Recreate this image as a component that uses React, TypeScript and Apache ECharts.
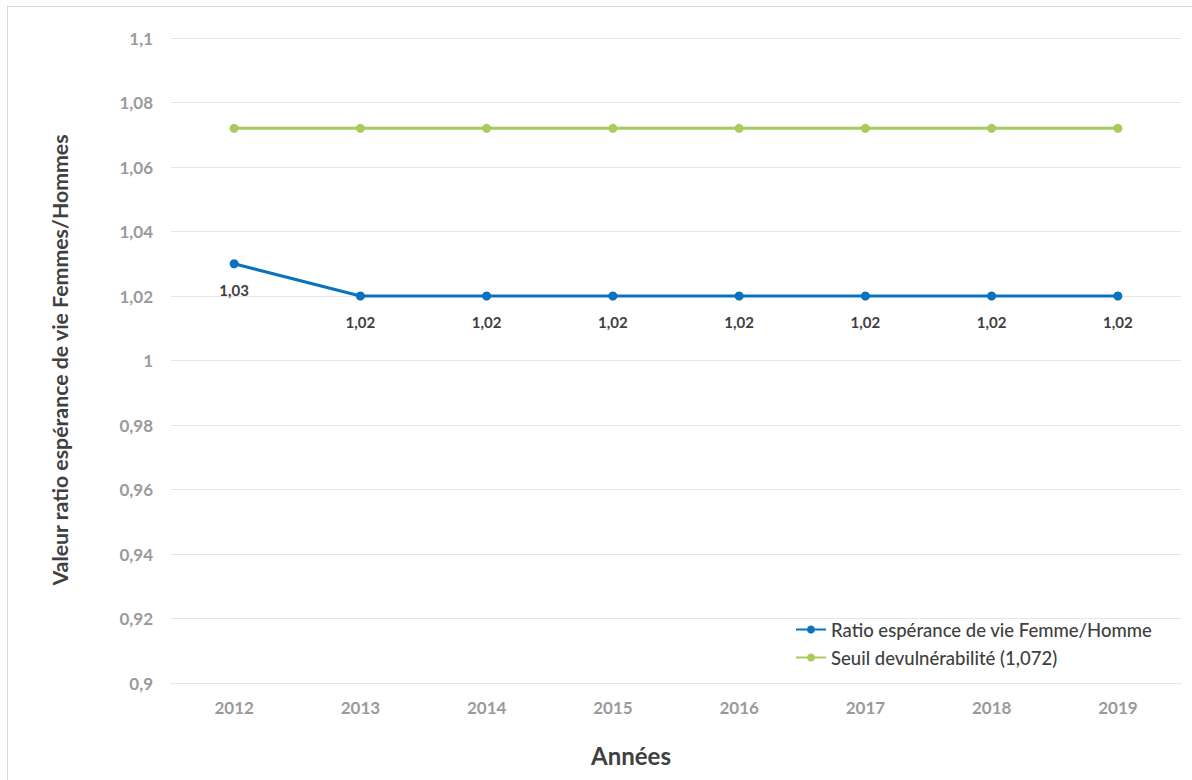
import React, { useEffect, useRef } from "react";
import * as echarts from "echarts";

const years = ["2012", "2013", "2014", "2015", "2016", "2017", "2018", "2019"];
const ratioValues = [1.03, 1.02, 1.02, 1.02, 1.02, 1.02, 1.02, 1.02];
const seuilValues = [1.072, 1.072, 1.072, 1.072, 1.072, 1.072, 1.072, 1.072];
const seriesNames = ["Ratio espérance de vie Femme/Homme", "Seuil devulnérabilité (1,072)"];

const FONT = "Lato, 'Open Sans', sans-serif";
const fmt = (v: number) => String(v).replace(".", ",");

export default function App() {
  const ref = useRef<HTMLDivElement>(null);
  useEffect(() => {
    if (!ref.current) return;
    const chart = echarts.init(ref.current, undefined, { renderer: "svg" });
    chart.setOption({
      animation: false,
      backgroundColor: "transparent",
      grid: { left: 171, right: 11, top: 38, bottom: 97, containLabel: false },
      legend: {
        orient: "vertical",
        left: 795,
        top: 620,
        padding: 0,
        itemWidth: 30,
        itemHeight: 10,
        itemGap: 9,
        textStyle: { fontFamily: FONT, fontSize: 18.5, color: "#404040", fontWeight: 500 },
        data: seriesNames,
      },
      xAxis: {
        type: "category",
        data: years,
        boundaryGap: true,
        axisLine: { show: true, lineStyle: { color: "#e3e3e3", width: 1 } },
        axisTick: { show: false },
        axisLabel: { color: "#9a9a9a", fontFamily: FONT, fontWeight: "bold", fontSize: 17, margin: 16 },
      },
      yAxis: {
        type: "value",
        min: 0.9,
        max: 1.1,
        interval: 0.02,
        axisLine: { show: false },
        axisTick: { show: false },
        splitLine: { lineStyle: { color: "#e6e6e6", width: 1 } },
        axisLabel: {
          color: "#9a9a9a",
          fontFamily: FONT,
          fontWeight: "bold",
          fontSize: 17,
          margin: 18,
          formatter: (v: number) => fmt(Math.round(v * 100) / 100),
        },
      },
      graphic: [
        {
          type: "text",
          x: 60,
          y: 360,
          rotation: Math.PI / 2,
          style: {
            text: "Valeur ratio espérance de vie Femmes/Hommes",
            font: `bold 21.3px ${FONT}`,
            fill: "#404040",
            align: "center",
            verticalAlign: "middle",
          },
        },
        {
          type: "text",
          x: 631,
          y: 755,
          style: {
            text: "Années",
            font: `bold 24px ${FONT}`,
            fill: "#404040",
            align: "center",
            verticalAlign: "middle",
          },
        },
      ],
      series: [
        {
          name: seriesNames[0],
          type: "line",
          data: ratioValues,
          color: "#0A72BE",
          lineStyle: { width: 3, color: "#0A72BE" },
          symbol: "circle",
          symbolSize: 9,
          itemStyle: { color: "#0A72BE" },
          label: {
            show: true,
            position: "bottom",
            distance: 14,
            color: "#404040",
            fontFamily: FONT,
            fontWeight: "bold",
            fontSize: 15,
            formatter: (p: any) => fmt(p.value),
          },
        },
        {
          name: seriesNames[1],
          type: "line",
          data: seuilValues,
          color: "#A8CB5B",
          lineStyle: { width: 3, color: "#A8CB5B" },
          symbol: "circle",
          symbolSize: 9,
          itemStyle: { color: "#A8CB5B" },
        },
      ],
    });
    return () => chart.dispose();
  }, []);
  return (
    <div style={{ position: "absolute", left: 0, top: 0, width: 1192, height: 780, background: "#fff" }}>
      <div
        style={{
          position: "absolute",
          left: 7,
          top: 6,
          width: 1192,
          height: 780,
          border: "1px solid #d9d9d9",
          boxSizing: "border-box",
        }}
      />
      <div ref={ref} style={{ position: "absolute", left: 0, top: 0, width: 1192, height: 780 }} />
    </div>
  );
}
